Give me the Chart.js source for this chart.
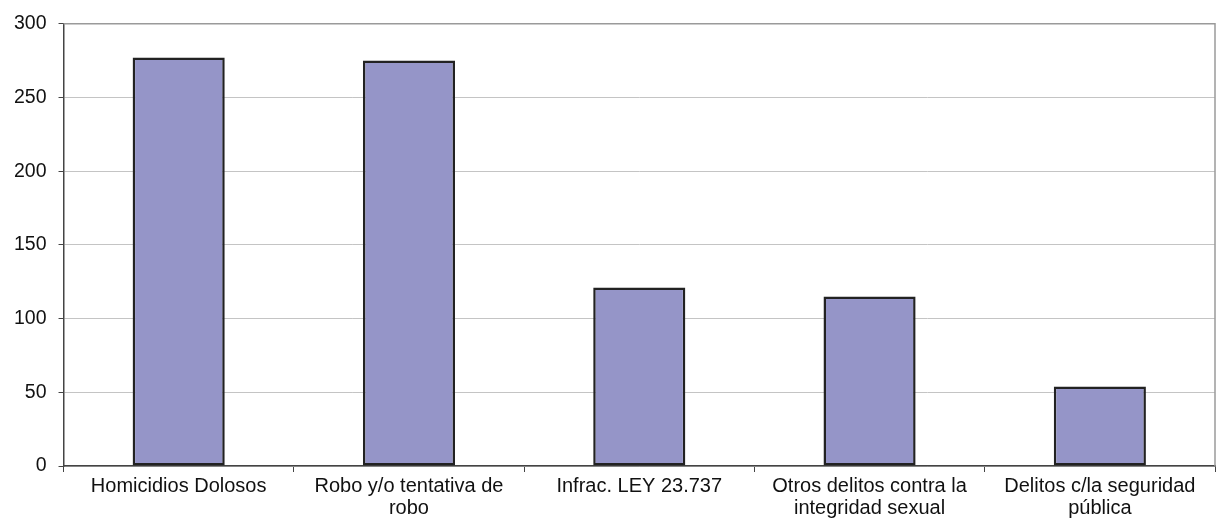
<!DOCTYPE html>
<html lang="es">
<head>
    <meta charset="UTF-8">
    <title>Delitos</title>
    <script src="https://cdn.jsdelivr.net/npm/chart.js"></script>
    <style>
        html, body { margin: 0; padding: 0; background: #fff; }
        #wrap { width: 1216px; height: 523px; }
    </style>
</head>
<body>
    <div id="wrap"><canvas id="chart"></canvas></div>
    <script>
        // data
        const categories = [
            'Homicidios Dolosos',
            ['Robo y/o tentativa de', 'robo'],
            'Infrac. LEY 23.737',
            ['Otros delitos contra la', 'integridad sexual'],
            ['Delitos c/la seguridad', 'pública']
        ];
        const values = [277, 275, 121, 115, 54];
        const yMax = 300;
        const yStep = 50;

        // gray frame on the right / top of plot area
        const frame = {
            id: 'frame',
            afterDraw(chart) {
                const { ctx, chartArea: a } = chart;
                ctx.save();
                ctx.strokeStyle = '#9a9a9a';
                ctx.lineWidth = 1.5;
                ctx.beginPath();
                ctx.moveTo(a.left, a.top);
                ctx.lineTo(a.right, a.top);
                ctx.lineTo(a.right, a.bottom);
                ctx.stroke();
                ctx.restore();
            }
        };

        new Chart(document.getElementById('chart'), {
            type: 'bar',
            data: {
                labels: categories,
                datasets: [{
                    data: values,
                    backgroundColor: '#9595c8',
                    borderColor: '#222222',
                    borderWidth: 2.5,
                    borderSkipped: false,
                    barPercentage: 0.4,
                    categoryPercentage: 1.0
                }]
            },
            options: {
                responsive: true,
                maintainAspectRatio: false,
                animation: false,
                layout: { padding: { left: 2, right: 1, top: 14, bottom: 1 } },
                plugins: { legend: { display: false }, tooltip: { enabled: false } },
                scales: {
                    x: {
                        grid: {
                            offset: true,
                            drawOnChartArea: false,
                            tickLength: 6,
                            color: '#444'
                        },
                        border: { color: '#444', width: 1.5 },
                        ticks: {
                            maxRotation: 0,
                            autoSkip: false,
                            padding: 3,
                            color: '#111',
                            font: { family: 'Liberation Sans, Arial, sans-serif', size: 20, lineHeight: 1.1 }
                        }
                    },
                    y: {
                        min: 0,
                        max: yMax,
                        grid: { color: '#c4c4c4', tickColor: '#444', tickLength: 5 },
                        border: { color: '#444', width: 1.5 },
                        ticks: {
                            stepSize: yStep,
                            padding: 12,
                            color: '#111',
                            font: { family: 'Liberation Sans, Arial, sans-serif', size: 19.5 }
                        }
                    }
                }
            },
            plugins: [frame]
        });
    </script>
</body>
</html>
